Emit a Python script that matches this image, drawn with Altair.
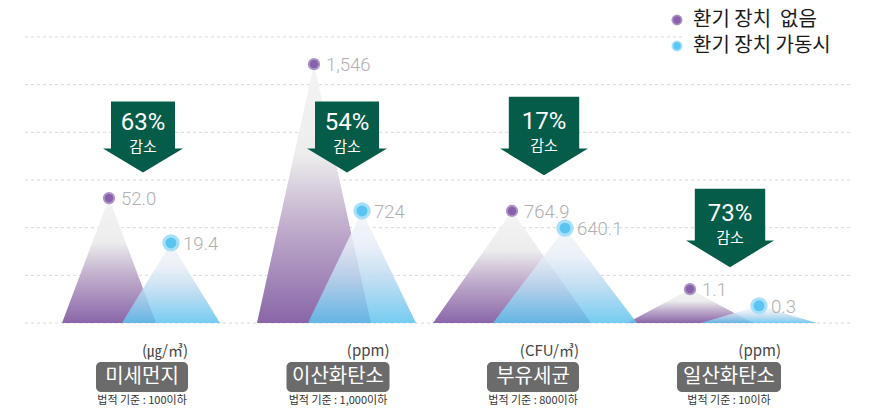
import altair as alt
import pandas as pd

# ---------------- data ----------------
categories = ["미세먼지", "이산화탄소", "부유세균", "일산화탄소"]
units = ["(㎍/㎥)", "(ppm)", "(CFU/㎥)", "(ppm)"]
standards = ["법적 기준 : 100이하", "법적 기준 : 1,000이하", "법적 기준 : 800이하", "법적 기준 : 10이하"]
series_names = ["환기 장치\u00a0\u00a0없음", "환기 장치 가동시"]
values_off = [52.0, 1546, 764.9, 1.1]
values_on = [19.4, 724, 640.1, 0.3]
labels_off = ["52.0", "1,546", "764.9", "1.1"]
labels_on = ["19.4", "724", "640.1", "0.3"]
reductions = ["63%", "54%", "17%", "73%"]
reduction_word = "감소"
# displayed peak heights (in grid steps above the baseline)
height_off = [2.62, 5.43, 2.35, 0.71]
height_on = [1.68, 2.35, 1.99, 0.36]
grid_levels = [0, 1, 2, 3, 4, 5, 6]

# ---------------- layout (page pixels) ----------------
peak_x_off = [109, 314, 512, 690]
peak_x_on = [171, 362, 565, 759]
half_w_off = [47, 57, 79, 63]
half_w_on = [49, 54, 72, 58]
label_center_x = [142, 338, 533, 729]
box_width = [92, 103, 92, 104]
arrow_x = [143, 347, 544, 730]
arrow_center_y = [137, 137, 136, 228]
arrow_width = [80, 80, 88, 88]
grid_x_start = [25, 25, 25, 25, 25, 25, 25]
grid_x_end = [850, 850, 850, 850, 850, 850, 683]

W, H = 865, 400
M = 8  # page margin
PURPLE = "#8a66a8"
BLUE = "#5ec3ef"
GREEN = "#045c49"
KFONT = "Noto Sans CJK KR"

# baseline at page y 323, one grid step = 47.67 px
STEP = 47.67
xs = alt.Scale(domain=[M, M + W], nice=False, zero=False)
ys = alt.Scale(domain=[-(M + H - 323) / STEP, (323 - M) / STEP], nice=False, zero=False)

# mountains
tri_rows = []
for i in range(4):
    for s, px_, hw, h in (("off", peak_x_off[i], half_w_off[i], height_off[i]),
                          ("on", peak_x_on[i], half_w_on[i], height_on[i])):
        tri_rows += [
            dict(series=s, group=i, x=px_ - hw, h=0.0),
            dict(series=s, group=i, x=px_, h=h),
            dict(series=s, group=i, x=px_ + hw, h=0.0),
        ]
tri = pd.DataFrame(tri_rows)

peaks = pd.DataFrame(
    [dict(series="off", group=i, x=peak_x_off[i], h=height_off[i], value=values_off[i], label=labels_off[i]) for i in range(4)]
    + [dict(series="on", group=i, x=peak_x_on[i], h=height_on[i], value=values_on[i], label=labels_on[i]) for i in range(4)]
)

grid = pd.DataFrame(dict(level=grid_levels, x1=grid_x_start, x2=grid_x_end))

grad_purple = {
    "gradient": "linear", "x1": 0, "x2": 0, "y1": 0, "y2": 1,
    "stops": [
        {"offset": 0, "color": "#f4f4f4"},
        {"offset": 0.35, "color": "#ededed"},
        {"offset": 0.6, "color": "#c4b3cf"},
        {"offset": 1, "color": PURPLE},
    ],
}
grad_blue = {
    "gradient": "linear", "x1": 0, "x2": 0, "y1": 0, "y2": 1,
    "stops": [
        {"offset": 0, "color": "#f2f5fa"},
        {"offset": 0.3, "color": "#e8eef7"},
        {"offset": 0.6, "color": "#b9d9f0"},
        {"offset": 1, "color": BLUE},
    ],
}

base = alt.Chart(tri)

gridlines = alt.Chart(grid).mark_rule(color="#d8d8d8", strokeDash=[3, 3], strokeWidth=1).encode(
    x=alt.X("x1:Q", scale=xs, axis=None), x2="x2:Q",
    y=alt.Y("level:Q", scale=ys, axis=None),
)

area_off = base.transform_filter(alt.datum.series == "off").mark_area(
    color=grad_purple, opacity=1
).encode(
    x=alt.X("x:Q", scale=xs, axis=None),
    y=alt.Y("h:Q", scale=ys, axis=None, stack=None),
    detail="group:N",
)
area_on = base.transform_filter(alt.datum.series == "on").mark_area(
    color=grad_blue, opacity=0.85
).encode(
    x=alt.X("x:Q", scale=xs, axis=None),
    y=alt.Y("h:Q", scale=ys, axis=None, stack=None),
    detail="group:N",
)

pk = alt.Chart(peaks)
enc_pk = dict(x=alt.X("x:Q", scale=xs, axis=None), y=alt.Y("h:Q", scale=ys, axis=None))
halo_off = pk.transform_filter(alt.datum.series == "off").mark_circle(size=150, color="#ab93c6", opacity=1).encode(**enc_pk)
dot_off = pk.transform_filter(alt.datum.series == "off").mark_circle(size=70, color="#8761ab", opacity=1).encode(**enc_pk)
halo_on = pk.transform_filter(alt.datum.series == "on").mark_circle(size=300, color="#a9e0f9", opacity=1).encode(**enc_pk)
dot_on = pk.transform_filter(alt.datum.series == "on").mark_circle(size=120, color="#5ac4f3", opacity=1).encode(**enc_pk)
val_text = pk.mark_text(
    align="left", baseline="middle", dx=12, dy=1, font="Roboto", fontWeight=300, fontSize=18.5, color="#b0b0b0"
).encode(text="label:N", **enc_pk)

# arrows
ARROW = "M-0.8,-0.89L0.8,-0.89L0.8,0.285L1,0.285L0,0.89L-1,0.285L-0.8,0.285Z"
arr = pd.DataFrame(dict(
    x=arrow_x,
    cy=[c - M for c in arrow_center_y],
    size=[w * w for w in arrow_width],
    pct=reductions,
    word=[reduction_word] * 4,
    ty1=[c - M - 14 for c in arrow_center_y],
    ty2=[c - M + 10 for c in arrow_center_y],
))
ac = alt.Chart(arr)
arrows = ac.mark_point(shape=ARROW, filled=True, color=GREEN, opacity=1, strokeWidth=0).encode(
    x=alt.X("x:Q", scale=xs, axis=None),
    y=alt.Y("cy:Q", scale=None),
    size=alt.Size("size:Q", scale=None, legend=None),
)
pct_text = ac.mark_text(font="Roboto", fontWeight=400, fontSize=24, color="white", baseline="middle").encode(
    x=alt.X("x:Q", scale=xs, axis=None), y=alt.Y("ty1:Q", scale=None), text="pct:N"
)
word_text = ac.mark_text(font=KFONT, fontSize=15, color="white", baseline="middle").encode(
    x=alt.X("x:Q", scale=xs, axis=None), y=alt.Y("ty2:Q", scale=None), text="word:N"
)

# category labels
cat = pd.DataFrame(dict(
    name=categories, unit=units, std=standards,
    cx=label_center_x,
    bx1=[c - w / 2 for c, w in zip(label_center_x, box_width)],
    bx2=[c + w / 2 for c, w in zip(label_center_x, box_width)],
))
cc = alt.Chart(cat)
boxes = cc.mark_rect(color="#6b6b6b", cornerRadius=5).encode(
    x=alt.X("bx1:Q", scale=xs, axis=None), x2="bx2:Q",
    y=alt.value(362 - M), y2=alt.value(392 - M),
)
box_text = cc.mark_text(font=KFONT, fontSize=20, color="white", baseline="middle").encode(
    x=alt.X("cx:Q", scale=xs, axis=None), y=alt.value(377 - M), text="name:N"
)
unit_text = cc.mark_text(font=KFONT, fontSize=15, color="#444444", align="right", baseline="middle").encode(
    x=alt.X("bx2:Q", scale=xs, axis=None), y=alt.value(351 - M), text="unit:N"
)
std_text = cc.mark_text(font=KFONT, fontSize=11, color="#333333", baseline="middle").encode(
    x=alt.X("cx:Q", scale=xs, axis=None), y=alt.value(401 - M), text="std:N"
)

# legend
leg = pd.DataFrame(dict(name=series_names, x=[677, 677], py=[20 - M, 46 - M],
                        halo=["#ab93c6", "#a9e0f9"], dot=["#8761ab", "#5ac4f3"]))
lc = alt.Chart(leg)
leg_halo = lc.mark_circle(size=120, opacity=1).encode(
    x=alt.X("x:Q", scale=xs, axis=None), y=alt.Y("py:Q", scale=None), color=alt.Color("halo:N", scale=None)
)
leg_dot = lc.mark_circle(size=55, opacity=1).encode(
    x=alt.X("x:Q", scale=xs, axis=None), y=alt.Y("py:Q", scale=None), color=alt.Color("dot:N", scale=None)
)
leg_text = lc.mark_text(font=KFONT, fontSize=20, color="#1a1a1a", align="left", baseline="middle", dx=16).encode(
    x=alt.X("x:Q", scale=xs, axis=None), y=alt.Y("py:Q", scale=None), text="name:N"
)

chart = alt.layer(
    gridlines, area_off, area_on,
    halo_off, dot_off, halo_on, dot_on, val_text,
    arrows, pct_text, word_text,
    boxes, box_text, unit_text, std_text,
    leg_halo, leg_dot, leg_text,
).properties(
    width=W, height=H, padding=0, autosize=alt.AutoSizeParams(type="none"), background="white"
).configure_view(stroke=None)

chart.save("out.html", embed_options={"renderer": "svg", "actions": False})
